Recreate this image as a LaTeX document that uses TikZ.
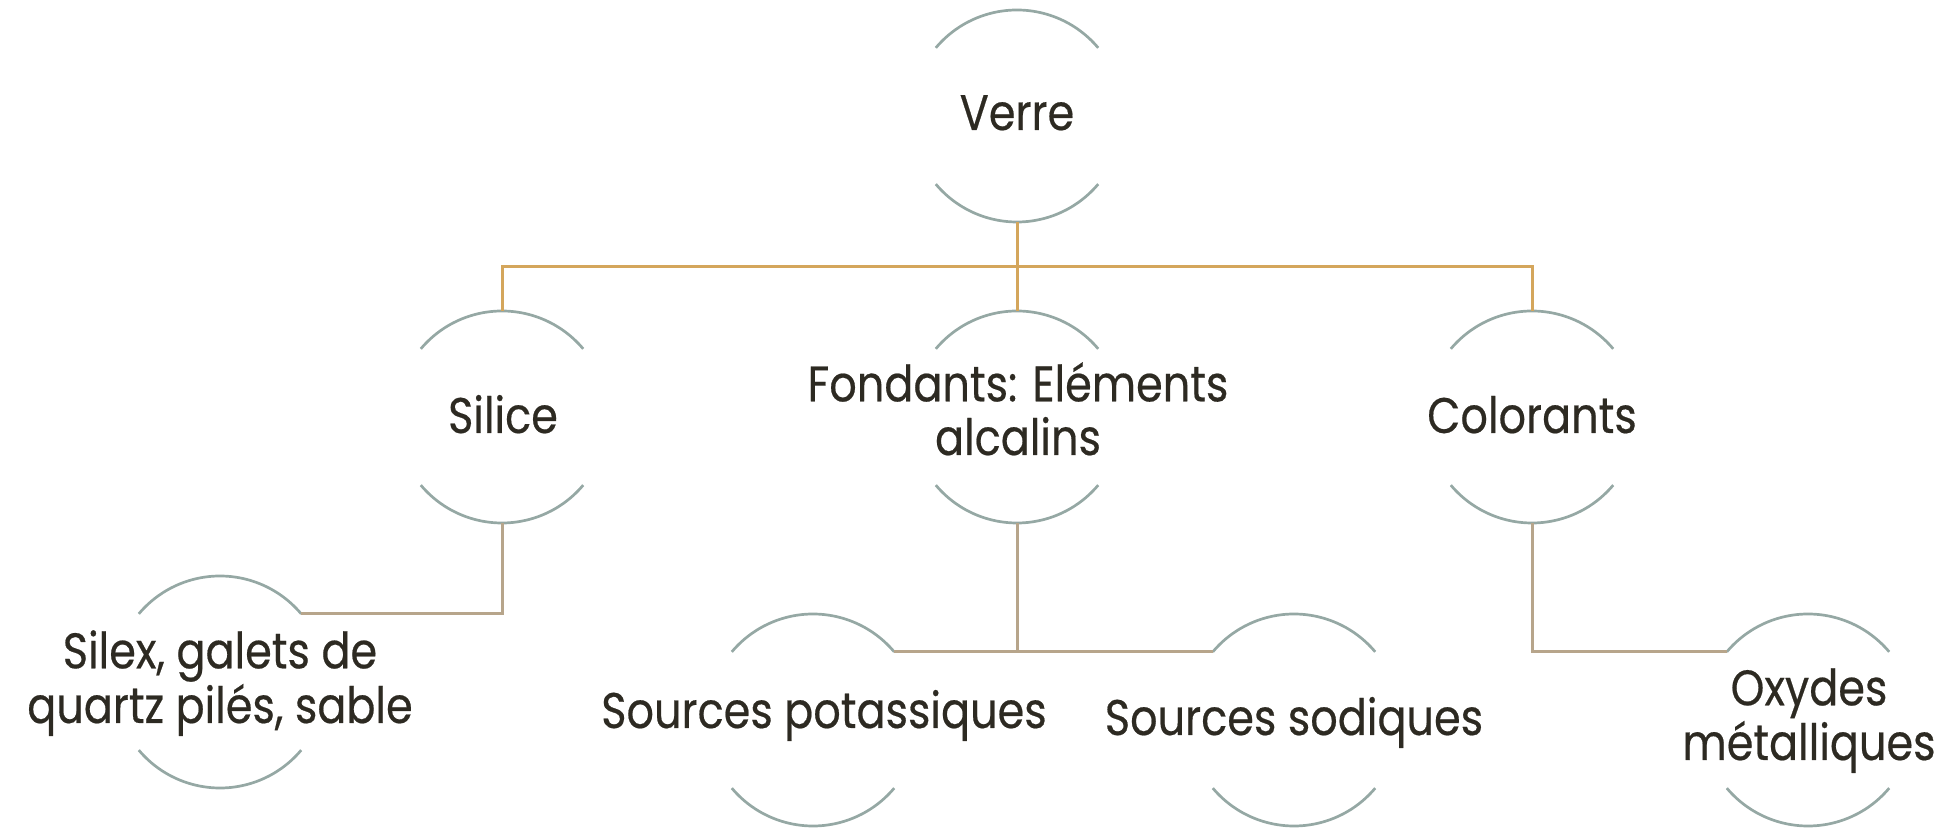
\documentclass[tikz,border=0pt]{standalone}
\usepackage{fontspec}
\setmainfont{Poppins}[FakeStretch=0.86,FakeBold=0.4]
\definecolor{ringc}{HTML}{95A8A4}
\definecolor{goldc}{HTML}{D4A65C}
\definecolor{tanc}{HTML}{B7A58B}
\definecolor{inkc}{HTML}{2D2A22}
\tikzset{
  ringnode/.style={circle, minimum size=212bp, inner sep=0pt, outer sep=0pt},
  arcline/.style={draw=ringc, line width=2.7bp},
  txt/.style={font=\fontsize{50bp}{52bp}\selectfont, text=inkc, inner sep=0pt, anchor=base},
  busline/.style={draw=goldc, line width=3bp},
  subline/.style={draw=tanc, line width=3bp}
}
\newcommand\ringarcs[1]{%
  \draw[arcline] (#1.40) arc[start angle=40,end angle=140,radius=106bp];
  \draw[arcline] (#1.220) arc[start angle=220,end angle=320,radius=106bp];}
\begin{document}
\begin{tikzpicture}[x=1bp,y=1bp]
\useasboundingbox (0,0) rectangle (1945,829);
% rings
\node[ringnode] (verre) at (1017,713) {};
\node[ringnode] (silice) at (502,412) {};
\node[ringnode] (fond) at (1017,412) {};
\node[ringnode] (color) at (1532,412) {};
\node[ringnode] (silex) at (220,147) {};
\node[ringnode] (potas) at (813,109) {};
\node[ringnode] (sodiq) at (1294,109) {};
\node[ringnode] (oxyd) at (1808,109) {};
\ringarcs{verre}\ringarcs{silice}\ringarcs{fond}\ringarcs{color}
\ringarcs{silex}\ringarcs{potas}\ringarcs{sodiq}\ringarcs{oxyd}
% connectors
\coordinate (bus) at (1017,562);
\draw[busline] (silice.north) |- (bus) -| (color.north);
\draw[busline] (verre.south) -- (fond.north);
\draw[subline] (silice.south) |- (silex.40);
\draw[subline] (fond.south) |- (potas.40);
\draw[subline] (fond.south) |- (sodiq.140);
\draw[subline] (color.south) |- (oxyd.140);
% texts
\node[txt] (tverre) at (1017,699) {Verre};
\node[txt] (tsilice) at (503,396) {Silice};
\node[txt] (tfond) at (1018,374) {\begin{tabular}[b]{@{}c@{}}Fondants: Eléments\\alcalins\end{tabular}};
\node[txt] (tcolor) at (1532,396) {Colorants};
\node[txt] (tsilex) at (220,106) {\begin{tabular}[b]{@{}c@{}}Silex, galets de\\quartz pilés, sable\end{tabular}};
\node[txt] (tpotas) at (824,101) {Sources potassiques};
\node[txt] (tsodiq) at (1294,94) {Sources sodiques};
\node[txt] (toxyd) at (1809,69) {\begin{tabular}[b]{@{}c@{}}Oxydes\\métalliques\end{tabular}};
\end{tikzpicture}
\end{document}
